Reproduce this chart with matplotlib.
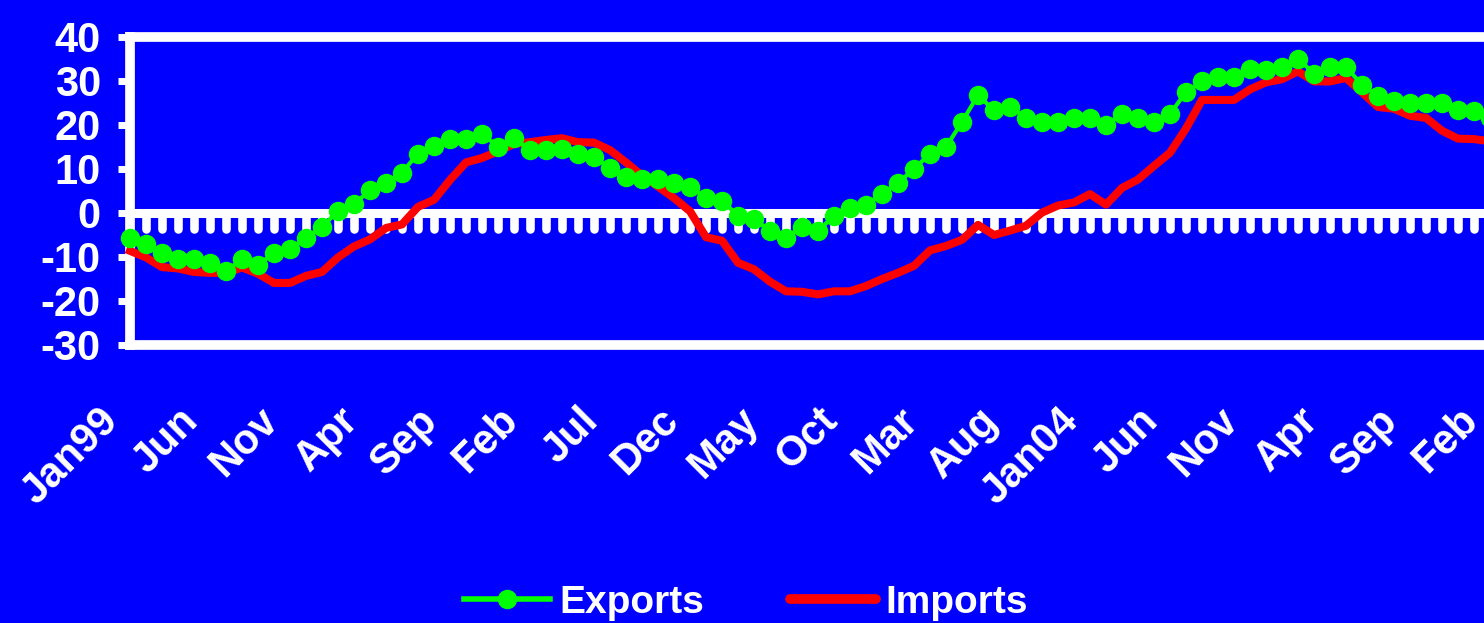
import numpy as np
import matplotlib
matplotlib.use('Agg')
import matplotlib.pyplot as plt
from matplotlib.lines import Line2D
from matplotlib.transforms import ScaledTranslation

plt.rcParams['font.family'] = ['Liberation Sans', 'DejaVu Sans']
plt.rcParams['font.weight'] = 'bold'
plt.rcParams['axes.unicode_minus'] = False

BLUE = '#0000FF'
GREEN = '#00FF00'
RED = '#FF0000'

# monthly growth, % y/y, Jan 1999 onwards
exports = [-5.7, -7.0, -9.1, -10.5, -10.5, -11.4, -13.2, -10.5, -11.8, -9.1,
           -8.2, -5.6, -3.2, 0.5, 2.0, 5.2, 6.8, 9.2, 13.5, 15.3,
           16.9, 16.9, 18.0, 15.1, 17.0, 14.3, 14.3, 14.5, 13.4, 12.7,
           10.2, 8.2, 7.7, 7.7, 6.8, 6.0, 3.5, 2.8, -0.6, -1.4,
           -4.0, -5.6, -3.1, -4.0, -0.7, 1.2, 1.8, 4.4, 6.8, 10.1,
           13.4, 15.0, 20.7, 26.8, 23.3, 24.1, 21.7, 20.7, 20.7, 21.7,
           21.7, 20.0, 22.6, 21.7, 20.7, 22.5, 27.5, 29.9, 30.9, 30.9,
           32.8, 32.5, 33.2, 35.1, 31.7, 33.2, 33.2, 29.1, 26.7, 25.5,
           25.0, 25.0, 25.1, 23.4, 23.2, 21.5]
imports = [-8.6, -10.1, -12.3, -12.6, -13.4, -13.6, -13.6, -12.4, -13.8, -15.9,
           -15.9, -14.3, -13.4, -10.1, -7.6, -6.0, -3.4, -2.6, 1.4, 3.0,
           7.5, 11.5, 12.5, 14.0, 15.7, 16.1, 16.6, 17.0, 16.1, 16.0,
           14.3, 11.5, 8.5, 6.0, 3.4, 0.4, -5.5, -6.3, -11.3, -12.8,
           -15.6, -17.8, -17.9, -18.5, -17.8, -17.8, -16.6, -15.0, -13.6, -12.0,
           -8.5, -7.5, -6.1, -2.7, -5.0, -4.0, -2.9, 0.1, 1.7, 2.4,
           4.3, 1.9, 5.7, 7.6, 10.7, 13.7, 19.2, 25.7, 25.7, 25.7,
           28.1, 29.7, 30.4, 32.2, 29.9, 29.9, 30.7, 27.4, 24.1, 23.7,
           22.1, 21.6, 18.7, 16.9, 16.8, 16.3]
tick_labels = ['Jan99', 'Jun', 'Nov', 'Apr', 'Sep', 'Feb', 'Jul', 'Dec', 'May',
               'Oct', 'Mar', 'Aug', 'Jan04', 'Jun', 'Nov', 'Apr', 'Sep', 'Feb']
y_ticks = [-30, -20, -10, 0, 10, 20, 30, 40]

months = np.arange(len(exports))

W, H = 1484, 623
fig = plt.figure(figsize=(W / 100, H / 100), dpi=100)
fig.patch.set_facecolor(BLUE)

# plot frame runs off the right edge of the figure
x0, x1, y_top, y_bot = 130, 1506, 37, 345
ax = fig.add_axes([x0 / W, 1 - y_bot / H, (x1 - x0) / W, (y_bot - y_top) / H])
ax.set_facecolor(BLUE)
ax.set_xlim(0, 86)
ax.set_ylim(-30, 40)

for side in ['top', 'left', 'bottom']:
    ax.spines[side].set_color('white')
    ax.spines[side].set_linewidth(7)
    ax.spines[side].set_capstyle('projecting')
ax.spines['right'].set_visible(False)

ax.set_yticks(y_ticks)
ax.tick_params(axis='y', direction='out', length=9, width=5, color='white',
               labelcolor='white', labelsize=30, pad=12)

# zero line with month ticks hanging below it
ax.axhline(0, color='white', linewidth=6.5, zorder=1)
ax.vlines(months[1:], -3.6, 0, colors='white', linewidth=6.2,
          capstyle='round', zorder=1)

ax.plot(months, imports, color=RED, linewidth=5.8, solid_joinstyle='round',
        zorder=3, clip_on=False)
ax.plot(months, exports, color=GREEN, linewidth=3, marker='o', markersize=13,
        markeredgecolor=GREEN, zorder=4, clip_on=False)

ax.set_xticks(months[::5])
ax.set_xticklabels(tick_labels)
ax.tick_params(axis='x', length=0, pad=50, labelcolor='white', labelsize=30)
shift = ScaledTranslation(-18 / 100, 0, fig.dpi_scale_trans)
for lbl in ax.get_xticklabels():
    lbl.set_rotation(45)
    lbl.set_ha('right')
    lbl.set_va('center')
    lbl.set_rotation_mode('anchor')
    lbl.set_transform(lbl.get_transform() + shift)

handles = [Line2D([], [], color=GREEN, linewidth=4, marker='o', markersize=13),
           Line2D([], [], color=RED, linewidth=7, solid_capstyle='round')]
leg = fig.legend(handles, ['Exports', 'Imports'], loc='center',
                 bbox_to_anchor=(746 / W, 1 - 603 / H), ncol=2, frameon=False,
                 fontsize=28, handlelength=2.2, handletextpad=0.25,
                 columnspacing=2.2, labelcolor='white')

fig.savefig('out.png', dpi=100, facecolor=BLUE)
